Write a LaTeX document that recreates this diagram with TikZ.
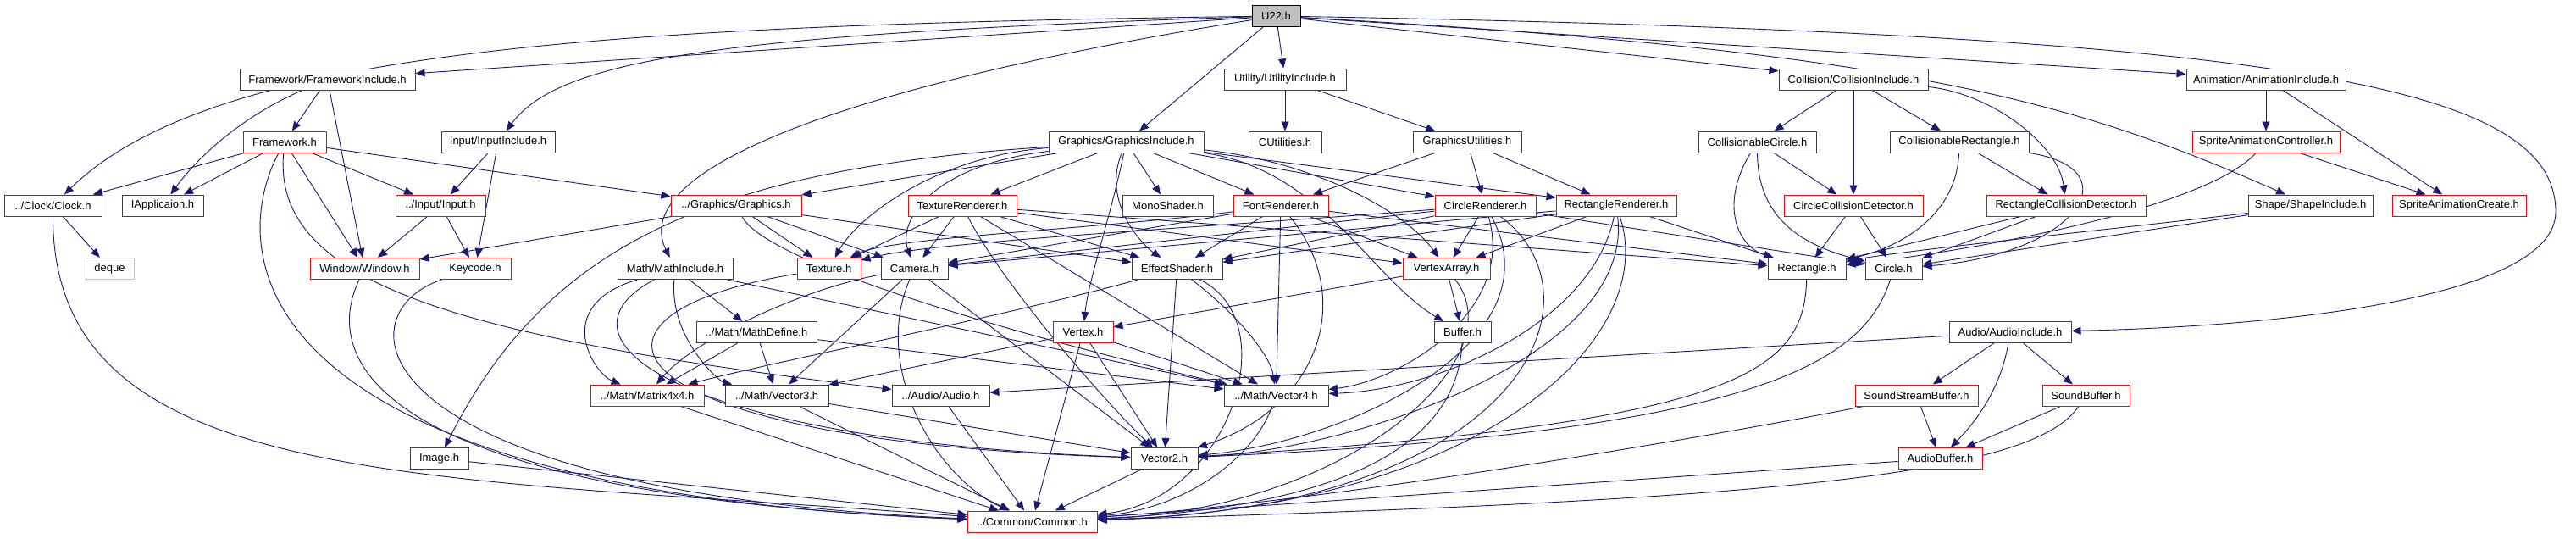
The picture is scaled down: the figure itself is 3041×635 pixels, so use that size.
\documentclass[tikz,border=0pt]{standalone}
\usepackage{fontspec}
\setmainfont{Liberation Sans}
\usetikzlibrary{arrows.meta, backgrounds}
\definecolor{edgeblue}{HTML}{191970}
\definecolor{boxgray}{HTML}{404040}
\definecolor{extgray}{HTML}{BFBFBF}
\definecolor{rootgray}{HTML}{BFBFBF}

\begin{document}
\begin{tikzpicture}[x=1pt, y=-1pt,
          hdr/.style = {draw=boxgray, fill=white, line width=1pt,
                        minimum height=25pt, inner sep=0pt,
                        font=\fontsize{13}{15}\selectfont},
          trunc/.style = {hdr, draw=red},
          ext/.style = {hdr, draw=extgray},
          root/.style = {hdr, draw=black, fill=rootgray},
          dep/.style = {->, draw=edgeblue, line width=0.9pt},
          >={Triangle[length=11pt, width=9pt]}]
        \useasboundingbox (0,0) rectangle (3041,635);
        % row 0
        \node[root, minimum width=57pt]   (u22)       at (1506.5,19)  {U22.h};
        % row 1
        \node[hdr, minimum width=207pt]   (fwinc)     at (386.5,93.5) {Framework/FrameworkInclude.h};
        \node[hdr, minimum width=144pt]   (utilinc)   at (1517,93.5)  {Utility/UtilityInclude.h};
        \node[hdr, minimum width=176pt]   (collinc)   at (2188,93.5)  {Collision/CollisionInclude.h};
        \node[hdr, minimum width=188pt]   (animinc)   at (2675,93.5)  {Animation/AnimationInclude.h};
        % row 2
        \node[trunc, minimum width=98pt]  (framework) at (336,167.5)  {Framework.h};
        \node[hdr, minimum width=134pt]   (inputinc)  at (588,167.5)  {Input/InputInclude.h};
        \node[hdr, minimum width=183pt]   (gfxinc)    at (1329.5,167.5) {Graphics/GraphicsInclude.h};
        \node[hdr, minimum width=86pt]    (cutil)     at (1517,167.5) {CUtilities.h};
        \node[hdr, minimum width=128pt]   (gfxutil)   at (1732,167.5) {GraphicsUtilities.h};
        \node[hdr, minimum width=139pt]   (colcircle) at (2074.5,167.5) {CollisionableCircle.h};
        \node[hdr, minimum width=164pt]   (colrect)   at (2313,167.5) {CollisionableRectangle.h};
        \node[trunc, minimum width=174pt] (spritectrl) at (2675,167.5) {SpriteAnimationController.h};
        % row 3
        \node[hdr, minimum width=115pt]   (clock)     at (62.5,242.5) {../Clock/Clock.h};
        \node[hdr, minimum width=96pt]    (iapp)      at (192,242.5)  {IApplicaion.h};
        \node[trunc, minimum width=106pt] (input)     at (520,242.5)  {../Input/Input.h};
        \node[trunc, minimum width=154pt] (graphics)  at (869,242.5)  {../Graphics/Graphics.h};
        \node[trunc, minimum width=128pt] (texrend)   at (1136,242.5) {TextureRenderer.h};
        \node[hdr, minimum width=107pt]   (mono)      at (1378.5,242.5) {MonoShader.h};
        \node[trunc, minimum width=112pt] (fontrend)  at (1512,242.5) {FontRenderer.h};
        \node[trunc, minimum width=119pt] (circrend)  at (1753.5,242.5) {CircleRenderer.h};
        \node[trunc, minimum width=142pt] (rectrend)  at (1908,242.5) {RectangleRenderer.h};
        \node[trunc, minimum width=164pt] (circdet)   at (2188,242.5) {CircleCollisionDetector.h};
        \node[trunc, minimum width=188pt] (rectdet)   at (2439,242.5) {RectangleCollisionDetector.h};
        \node[hdr, minimum width=147pt]   (shapeinc)  at (2727.5,242.5) {Shape/ShapeInclude.h};
        \node[trunc, minimum width=158pt] (spritecreate) at (2903,242.5) {SpriteAnimationCreate.h};
        % row 4
        \node[ext, minimum width=57pt]    (deque)     at (129.5,317)  {deque};
        \node[trunc, minimum width=129pt] (window)    at (430.5,317)  {Window/Window.h};
        \node[trunc, minimum width=84pt]  (keycode)   at (561,317)    {Keycode.h};
        \node[hdr, minimum width=136pt]   (mathinc)   at (797,317)    {Math/MathInclude.h};
        \node[trunc, minimum width=75pt]  (texture)   at (978.5,317)  {Texture.h};
        \node[hdr, minimum width=79pt]    (camera)    at (1079.5,317) {Camera.h};
        \node[hdr, minimum width=107pt]   (effect)    at (1389.5,317) {EffectShader.h};
        \node[trunc, minimum width=103pt] (vertexarray) at (1707.5,317) {VertexArray.h};
        \node[hdr, minimum width=92pt]    (rectangle) at (2133,317)   {Rectangle.h};
        \node[hdr, minimum width=67pt]    (circle)    at (2235.5,317) {Circle.h};
        % row 5
        \node[hdr, minimum width=142pt]   (mathdef)   at (893,392)    {../Math/MathDefine.h};
        \node[trunc, minimum width=71pt]  (vertex)    at (1278.5,392) {Vertex.h};
        \node[hdr, minimum width=67pt]    (buffer)    at (1726.5,392) {Buffer.h};
        \node[hdr, minimum width=144pt]   (audioinc)  at (2373,392)   {Audio/AudioInclude.h};
        % row 6
        \node[trunc, minimum width=134pt] (matrix)    at (764,466.5)  {../Math/Matrix4x4.h};
        \node[hdr, minimum width=122pt]   (vector3)   at (917,466.5)  {../Math/Vector3.h};
        \node[hdr, minimum width=115pt]   (audio)     at (1110.5,466.5) {../Audio/Audio.h};
        \node[hdr, minimum width=123pt]   (vector4)   at (1506.5,466.5) {../Math/Vector4.h};
        \node[trunc, minimum width=145pt] (soundstream) at (2262.5,466.5) {SoundStreamBuffer.h};
        \node[trunc, minimum width=103pt] (soundbuf)  at (2462.5,466.5) {SoundBuffer.h};
        % row 7
        \node[hdr, minimum width=69pt]    (image)     at (518.5,541)  {Image.h};
        \node[hdr, minimum width=79pt]    (vector2)   at (1374.5,541) {Vector2.h};
        \node[trunc, minimum width=99pt]  (audiobuf)  at (2290.5,541) {AudioBuffer.h};
        % row 8
        \node[trunc, minimum width=153pt] (common)    at (1218.5,615.5) {../Common/Common.h};

        \begin{pgfonlayer}{background}
        % U22.h
        \draw[dep] (u22) -- (fwinc);
        \draw[dep] (u22) .. controls (700,30) and (250,60) .. (clock);
        \draw[dep] (u22) .. controls (850,40) and (660,70) .. (inputinc);
        \draw[dep] (u22) .. controls (1000,100) and (740,200) .. (mathinc);
        \draw[dep] (u22) -- (gfxinc);
        \draw[dep] (u22) -- (utilinc);
        \draw[dep] (u22) -- (collinc);
        \draw[dep] (u22) .. controls (2250,60) and (2450,120) .. (shapeinc);
        \draw[dep] (u22) -- (animinc);
        \draw[dep] (u22) .. controls (2700,40) and (3017,100) .. (3017,250)
              .. controls (3017,350) and (2700,385) .. (audioinc);

        % framework and input
        \draw[dep] (fwinc) -- (framework);
        \draw[dep] (fwinc) .. controls (280,140) and (230,190) .. (iapp);
        \draw[dep] (fwinc) -- (window);
        \draw[dep] (framework) -- (clock);
        \draw[dep] (framework) -- (iapp);
        \draw[dep] (framework) -- (input);
        \draw[dep] (framework) -- (window);
        \draw[dep] (framework) -- (graphics);
        \draw[dep] (framework) .. controls (270,290) and (270,580) .. (common);
        \draw[dep] (framework) .. controls (320,340) and (560,400) .. (audio);
        \draw[dep] (clock) -- (deque);
        \draw[dep] (clock) .. controls (62,580) and (500,560) .. (common);
        \draw[dep] (inputinc) -- (input);
        \draw[dep] (inputinc) -- (keycode);
        \draw[dep] (input) -- (keycode);
        \draw[dep] (input) -- (window);
        \draw[dep] (window) .. controls (380,420) and (430,585) .. (common);
        \draw[dep] (keycode) .. controls (400,370) and (420,580) .. (common);

        % graphics
        \draw[dep] (graphics) -- (window);
        \draw[dep] (graphics) -- (texture);
        \draw[dep] (graphics) -- (camera);
        \draw[dep] (graphics) -- (effect);
        \draw[dep] (graphics) .. controls (910,320) and (1300,420) .. (vector4);
        \draw[dep] (gfxinc) -- (graphics);
        \draw[dep] (gfxinc) .. controls (820,200) and (640,300) .. (image);
        \draw[dep] (gfxinc) .. controls (1100,185) and (1010,260) .. (texture);
        \draw[dep] (gfxinc) .. controls (1100,195) and (1060,260) .. (camera);
        \draw[dep] (gfxinc) -- (texrend);
        \draw[dep] (gfxinc) -- (mono);
        \draw[dep] (gfxinc) -- (fontrend);
        \draw[dep] (gfxinc) -- (circrend);
        \draw[dep] (gfxinc) -- (rectrend);
        \draw[dep] (gfxinc) .. controls (1310,260) and (1285,330) .. (vertex);
        \draw[dep] (gfxinc) .. controls (1300,240) and (1350,290) .. (effect);
        \draw[dep] (gfxinc) .. controls (1550,190) and (1660,250) .. (vertexarray);
        \draw[dep] (gfxinc) .. controls (1560,200) and (1620,330) .. (buffer);
        \draw[dep] (utilinc) -- (cutil);
        \draw[dep] (utilinc) -- (gfxutil);
        \draw[dep] (gfxutil) -- (fontrend);
        \draw[dep] (gfxutil) -- (circrend);
        \draw[dep] (gfxutil) -- (rectrend);

        \draw[dep] (texrend) -- (texture);
        \draw[dep] (texrend) -- (camera);
        \draw[dep] (texrend) -- (effect);
        \draw[dep] (texrend) -- (vertexarray);
        \draw[dep] (texrend) .. controls (1180,330) and (1300,470) .. (vector2);
        \draw[dep] (texrend) -- (rectangle);
        \draw[dep] (texrend) -- (vector4);
        \draw[dep] (fontrend) .. controls (1300,270) and (1050,280) .. (texture);
        \draw[dep] (fontrend) -- (camera);
        \draw[dep] (fontrend) -- (effect);
        \draw[dep] (fontrend) -- (vertexarray);
        \draw[dep] (fontrend) -- (rectangle);
        \draw[dep] (fontrend) -- (vector4);
        \draw[dep] (fontrend) .. controls (1600,350) and (1560,480) .. (vector2);
        \draw[dep] (circrend) -- (camera);
        \draw[dep] (circrend) .. controls (1400,270) and (1100,285) .. (texture);
        \draw[dep] (circrend) -- (effect);
        \draw[dep] (circrend) -- (vertexarray);
        \draw[dep] (circrend) -- (circle);
        \draw[dep] (circrend) .. controls (1790,370) and (1650,450) .. (vector4);
        \draw[dep] (circrend) .. controls (1840,400) and (1600,520) .. (vector2);
        \draw[dep] (circrend) .. controls (1900,350) and (1800,600) .. (common);
        \draw[dep] (rectrend) -- (camera);
        \draw[dep] (rectrend) -- (effect);
        \draw[dep] (rectrend) -- (vertexarray);
        \draw[dep] (rectrend) -- (rectangle);
        \draw[dep] (rectrend) .. controls (1880,380) and (1700,460) .. (vector4);
        \draw[dep] (rectrend) .. controls (1930,420) and (1600,530) .. (vector2);
        \draw[dep] (rectrend) .. controls (1960,400) and (1750,600) .. (common);

        \draw[dep] (camera) .. controls (950,340) and (820,400) .. (matrix);
        \draw[dep] (camera) -- (vector3);
        \draw[dep] (camera) -- (vector2);
        \draw[dep] (camera) .. controls (1030,430) and (1100,560) .. (common);
        \draw[dep] (texture) .. controls (650,370) and (700,520) .. (vector2);
        \draw[dep] (effect) .. controls (1200,370) and (900,430) .. (matrix);
        \draw[dep] (effect) .. controls (1460,370) and (1500,420) .. (vector4);
        \draw[dep] (effect) -- (vector2);
        \draw[dep] (effect) .. controls (1520,380) and (1450,590) .. (common);
        \draw[dep] (vertexarray) -- (vertex);
        \draw[dep] (vertexarray) -- (buffer);
        \draw[dep] (vertexarray) .. controls (1790,420) and (1600,600) .. (common);
        \draw[dep] (vertex) -- (vector3);
        \draw[dep] (vertex) -- (vector4);
        \draw[dep] (vertex) -- (vector2);
        \draw[dep] (vertex) -- (common);
        \draw[dep] (buffer) .. controls (1720,540) and (1550,600) .. (common);
        \draw[dep] (image) -- (common);

        % math
        \draw[dep] (mathinc) -- (mathdef);
        \draw[dep] (mathinc) .. controls (650,360) and (700,440) .. (matrix);
        \draw[dep] (mathinc) .. controls (790,400) and (850,450) .. (vector3);
        \draw[dep] (mathinc) -- (vector4);
        \draw[dep] (mathinc) .. controls (640,400) and (800,520) .. (vector2);
        \draw[dep] (mathdef) -- (matrix);
        \draw[dep] (mathdef) -- (vector3);
        \draw[dep] (mathdef) -- (vector4);
        \draw[dep] (matrix) -- (common);
        \draw[dep] (vector3) -- (vector2);
        \draw[dep] (vector3) -- (common);
        \draw[dep] (vector4) .. controls (1480,540) and (1400,600) .. (common);
        \draw[dep] (vector2) -- (common);

        % audio
        \draw[dep] (audioinc) -- (audio);
        \draw[dep] (audioinc) -- (soundstream);
        \draw[dep] (audioinc) -- (soundbuf);
        \draw[dep] (audioinc) .. controls (2360,470) and (2320,510) .. (audiobuf);
        \draw[dep] (audio) -- (common);
        \draw[dep] (soundstream) -- (audiobuf);
        \draw[dep] (soundstream) .. controls (2100,500) and (1600,590) .. (common);
        \draw[dep] (soundbuf) -- (audiobuf);
        \draw[dep] (soundbuf) .. controls (2400,560) and (2100,590) .. (common);
        \draw[dep] (audiobuf) -- (common);

        % collision, shape, animation
        \draw[dep] (collinc) -- (colcircle);
        \draw[dep] (collinc) -- (circdet);
        \draw[dep] (collinc) -- (colrect);
        \draw[dep] (collinc) .. controls (2350,110) and (2430,170) .. (rectdet);
        \draw[dep] (colcircle) -- (circdet);
        \draw[dep] (colcircle) .. controls (2030,240) and (2050,290) .. (rectangle);
        \draw[dep] (colcircle) .. controls (2075,260) and (2130,290) .. (circle);
        \draw[dep] (colrect) -- (rectdet);
        \draw[dep] (colrect) .. controls (2310,250) and (2250,290) .. (rectangle);
        \draw[dep] (colrect) .. controls (2520,200) and (2450,300) .. (circle);
        \draw[dep] (circdet) -- (rectangle);
        \draw[dep] (circdet) -- (circle);
        \draw[dep] (rectdet) -- (rectangle);
        \draw[dep] (rectdet) -- (circle);
        \draw[dep] (shapeinc) .. controls (2500,270) and (2250,295) .. (rectangle);
        \draw[dep] (shapeinc) -- (circle);
        \draw[dep] (spritectrl) .. controls (2600,250) and (2300,300) .. (rectangle);
        \draw[dep] (rectangle) .. controls (2130,440) and (2050,500) .. (vector2);
        \draw[dep] (circle) .. controls (2200,430) and (2070,510) .. (vector2);
        \draw[dep] (animinc) -- (spritectrl);
        \draw[dep] (animinc) -- (spritecreate);
        \draw[dep] (spritectrl) -- (spritecreate);
        \end{pgfonlayer}
      \end{tikzpicture}
\end{document}
